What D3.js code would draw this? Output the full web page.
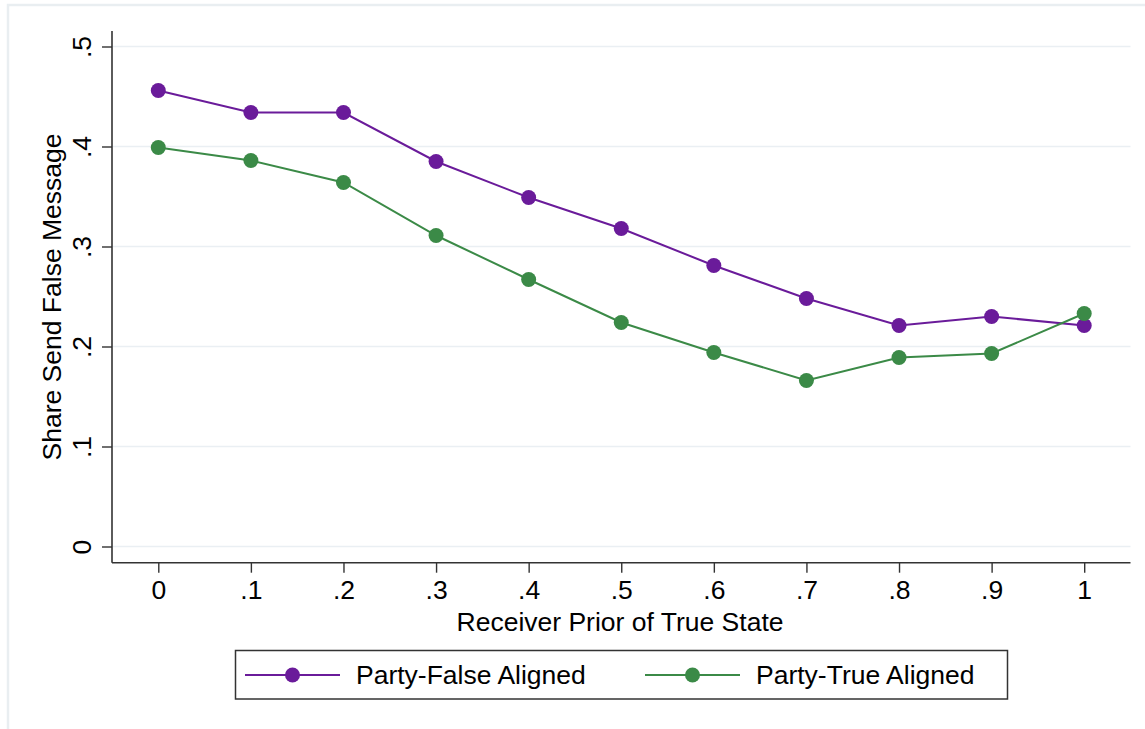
<!DOCTYPE html>
<html><head><meta charset="utf-8">
<script src="https://cdn.jsdelivr.net/npm/d3@7"></script>
<style>html,body{margin:0;padding:0;background:#fff;}svg{display:block;font-family:"Liberation Sans",Arial,Helvetica,sans-serif;}</style>
</head><body>
<script>
const xValues = [0, 0.1, 0.2, 0.3, 0.4, 0.5, 0.6, 0.7, 0.8, 0.9, 1];
const partyFalseAligned = [0.456, 0.434, 0.434, 0.385, 0.349, 0.318, 0.281, 0.248, 0.221, 0.230, 0.221];
const partyTrueAligned = [0.399, 0.386, 0.364, 0.311, 0.267, 0.224, 0.194, 0.166, 0.189, 0.193, 0.233];
const xTicks = [0, 0.1, 0.2, 0.3, 0.4, 0.5, 0.6, 0.7, 0.8, 0.9, 1];
const xTickLabels = ["0", ".1", ".2", ".3", ".4", ".5", ".6", ".7", ".8", ".9", "1"];
const yTicks = [0, 0.1, 0.2, 0.3, 0.4, 0.5];
const yTickLabels = ["0", ".1", ".2", ".3", ".4", ".5"];
const seriesNames = ["Party-False Aligned", "Party-True Aligned"];
const seriesColors = ["#6a1b9a", "#3b8a47"];

const W = 1145, H = 729;
const svg = d3.select("body").append("svg").attr("width", W).attr("height", H);

// outer frame
svg.append("rect").attr("x", 8).attr("y", 5).attr("width", W).attr("height", H)
  .attr("fill", "none").attr("stroke", "#e9eef1").attr("stroke-width", 2.5);

const x = d3.scaleLinear().domain([-0.05, 1.05]).range([112, 1130.5]);
const y = d3.scaleLinear().domain([0, 0.5]).range([546.5, 46.5]);
const yBottom = 562.7, yTop = 31;
const FS = 26.5;

// gridlines
svg.append("g").selectAll("line").data(yTicks).join("line")
  .attr("x1", 112).attr("x2", 1130.5)
  .attr("y1", d => y(d)).attr("y2", d => y(d))
  .attr("stroke", "#eaeff3").attr("stroke-width", 1.5);

// y axis
const yAxis = d3.axisLeft(y).tickValues(yTicks).tickSize(10).tickPadding(8)
  .tickFormat((d, i) => yTickLabels[i]);
const gy = svg.append("g").attr("transform", "translate(112,0)").call(yAxis);
gy.select(".domain").remove();
gy.append("line").attr("x1", 0).attr("x2", 0).attr("y1", yTop).attr("y2", yBottom)
  .attr("stroke", "#333").attr("stroke-width", 1.6);
gy.selectAll(".tick line").attr("stroke", "#333").attr("stroke-width", 1.4);
gy.selectAll(".tick text").attr("font-size", FS).attr("fill", "#000")
  .attr("font-family", "Liberation Sans, Arial, sans-serif")
  .attr("text-anchor", "middle").attr("dy", null)
  .attr("transform", d => `translate(-30,${0}) rotate(-90)`)
  .attr("x", 0).attr("y", 0).attr("dominant-baseline", "central");

// x axis
const xAxis = d3.axisBottom(x).tickValues(xTicks).tickSize(10).tickPadding(7)
  .tickFormat((d, i) => xTickLabels[i]);
const gx = svg.append("g").attr("transform", `translate(0,${yBottom})`).call(xAxis);
gx.select(".domain").remove();
gx.append("line").attr("x1", 112).attr("x2", 1130.5).attr("y1", 0).attr("y2", 0)
  .attr("stroke", "#333").attr("stroke-width", 1.6);
gx.selectAll(".tick line").attr("stroke", "#333").attr("stroke-width", 1.4);
gx.selectAll(".tick text").attr("font-size", FS).attr("fill", "#000")
  .attr("font-family", "Liberation Sans, Arial, sans-serif");

// axis titles
svg.append("text").attr("x", 620).attr("y", 631).attr("text-anchor", "middle")
  .attr("font-size", FS).text("Receiver Prior of True State");
svg.append("text").attr("transform", "translate(61,297) rotate(-90)")
  .attr("text-anchor", "middle").attr("font-size", FS).text("Share Send False Message");

// series
const allSeries = [partyFalseAligned, partyTrueAligned];
const line = d3.line().x((d, i) => x(xValues[i])).y(d => y(d));
allSeries.forEach((vals, s) => {
  const g = svg.append("g");
  g.append("path").datum(vals).attr("d", line).attr("fill", "none")
    .attr("stroke", seriesColors[s]).attr("stroke-width", 2);
  g.selectAll("circle").data(vals).join("circle")
    .attr("cx", (d, i) => x(xValues[i])).attr("cy", d => y(d)).attr("r", 7.5)
    .attr("fill", seriesColors[s]);
});

// legend
const lg = svg.append("g");
lg.append("rect").attr("x", 235.5).attr("y", 650.5).attr("width", 772).attr("height", 48.5)
  .attr("fill", "#fff").attr("stroke", "#333").attr("stroke-width", 1.5);
const legendItems = [
  {x1: 245, x2: 340, text: 356},
  {x1: 645, x2: 740, text: 756}
];
legendItems.forEach((it, s) => {
  lg.append("line").attr("x1", it.x1).attr("x2", it.x2).attr("y1", 675).attr("y2", 675)
    .attr("stroke", seriesColors[s]).attr("stroke-width", 2);
  lg.append("circle").attr("cx", (it.x1 + it.x2) / 2).attr("cy", 675).attr("r", 7.5)
    .attr("fill", seriesColors[s]);
  lg.append("text").attr("x", it.text).attr("y", 675).attr("dy", "0.35em")
    .attr("font-size", FS).text(seriesNames[s]);
});
</script>
</body></html>
